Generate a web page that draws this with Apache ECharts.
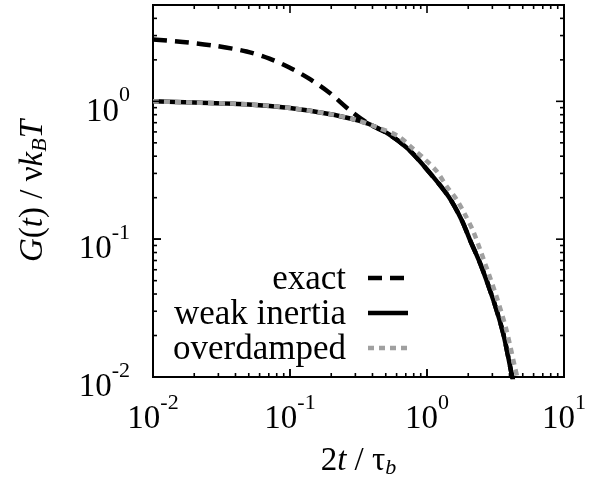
<!DOCTYPE html>
<html>
<head>
<meta charset="utf-8">
<script src="https://cdn.jsdelivr.net/npm/echarts@6/dist/echarts.min.js"></script>
<style>
html,body{margin:0;padding:0;background:#fff;}
#c{width:589px;height:487px;}
</style>
</head>
<body>
<div id="c"></div>
<script>
const FONT = "'Liberation Serif','Times New Roman',serif";

const X_MIN = 0.01, X_MAX = 10, Y_MIN = 0.01, Y_MAX = 5;
const xTickValues = [0.01, 0.1, 1, 10];
const xTickLabels = ['-2', '-1', '0', '1'];
const xMinorTicks = [0.02,0.03,0.04,0.05,0.06,0.07,0.08,0.09,0.2,0.3,0.4,0.5,0.6,0.7,0.8,0.9,2,3,4,5,6,7,8,9];
const yTickValues = [0.01, 0.1, 1];
const yTickLabels = ['-2', '-1', '0'];
const yMinorTicks = [0.02,0.03,0.04,0.05,0.06,0.07,0.08,0.09,0.2,0.3,0.4,0.5,0.6,0.7,0.8,0.9,2,3,4];

const seriesNames = ['exact', 'weak inertia', 'overdamped'];

const exactT = [0.01,0.0165,0.0292,0.0482,0.0708,0.0989,0.138,0.193,0.27,0.377,0.526,0.735,1.027,1.436,1.79,2.06,2.5,3.05,3.6,4.14,4.4];
const exactG = [2.81,2.70,2.52,2.30,2.04,1.76,1.46,1.16,0.87,0.685,0.578,0.448,0.31,0.204,0.138,0.0986,0.063,0.0361,0.0207,0.0106,0.0082];

const weakT = [0.01,0.02,0.05,0.1,0.193,0.3,0.377,0.526,0.735,1.027,1.436,1.79,2.06,2.5,3.05,3.6,4.14,4.4];
const weakG = [1.0,0.98,0.95,0.895,0.81,0.735,0.685,0.578,0.448,0.31,0.204,0.138,0.0986,0.063,0.0361,0.0207,0.0106,0.0082];

const overT = [0.01,0.02,0.05,0.1,0.193,0.3,0.445,0.622,0.757,0.972,1.18,1.395,1.65,1.9,2.18,2.65,3.22,3.8,4.38,4.7];
const overG = [1.0,0.98,0.95,0.895,0.81,0.735,0.641,0.556,0.471,0.377,0.31,0.241,0.193,0.150,0.1135,0.0668,0.0382,0.0219,0.0118,0.0088];

const GRID_L = 153, GRID_T = 5, GRID_R = 23, GRID_B = 110;
const MAJOR_LEN = 8, MINOR_LEN = 4;

function pairs(t, g) { return t.map((v, i) => [v, g[i]]); }

function labelFor(values, labels) {
  return function (v) {
    for (let i = 0; i < values.length; i++) {
      if (Math.abs(Math.log10(values[i]) - Math.log10(v)) < 0.01) return '{b|10}{s|' + labels[i] + '}';
    }
    return '';
  };
}

const richLbl = {
  b: { fontSize: 33, fontFamily: FONT, color: '#000', lineHeight: 44, verticalAlign: 'bottom' },
  s: { fontSize: 22, fontFamily: FONT, color: '#000', lineHeight: 22, verticalAlign: 'top' }
};

const nameRich = {
  n: { fontSize: 33, fontFamily: FONT, color: '#000', lineHeight: 40 },
  i: { fontSize: 33, fontFamily: FONT, fontStyle: 'italic', color: '#000', lineHeight: 40 },
  sub: { fontSize: 22, fontFamily: FONT, fontStyle: 'italic', color: '#000', lineHeight: 40, padding: [14, 0, 0, 0] }
};

const styles = [
  { color: '#000', width: 4.5, type: [14, 8] },
  { color: '#000', width: 4.5, type: 'solid' },
  { color: '#a0a0a0', width: 4.5, type: [6, 5] }
];
const dataSets = [pairs(exactT, exactG), pairs(weakT, weakG), pairs(overT, overG)];

const series = seriesNames.map((n, i) => ({
  name: n, type: 'line', data: dataSets[i],
  showSymbol: false, symbol: 'none', smooth: 0.3, clip: true,
  lineStyle: Object.assign({ cap: 'butt', join: 'round' }, styles[i]),
  itemStyle: { color: styles[i].color }
}));

const chart = echarts.init(document.getElementById('c'));
chart.setOption({
  animation: false,
  grid: { left: GRID_L, top: GRID_T, right: GRID_R, bottom: GRID_B, show: true, borderColor: '#000', borderWidth: 2, backgroundColor: 'transparent' },
  xAxis: {
    type: 'log', min: X_MIN, max: X_MAX,
    axisLine: { show: true, lineStyle: { color: '#000', width: 2 } },
    axisTick: { show: true, inside: true, length: MAJOR_LEN, lineStyle: { color: '#000', width: 1.5 } },
    axisLabel: { margin: 15, formatter: labelFor(xTickValues, xTickLabels), rich: richLbl },
    splitLine: { show: true, lineStyle: { color: 'rgba(0,0,0,0)' } },
    name: '{n|2}{i|t}{n| / τ}{sub|b}', nameLocation: 'middle', nameGap: 64, nameTextStyle: { rich: nameRich }
  },
  yAxis: {
    type: 'log', min: Y_MIN, max: Y_MAX,
    axisLine: { show: true, lineStyle: { color: '#000', width: 2 } },
    axisTick: { show: true, inside: true, length: MAJOR_LEN, lineStyle: { color: '#000', width: 1.5 } },
    axisLabel: { margin: 23, padding: [10, 0, 0, 0], formatter: labelFor(yTickValues, yTickLabels), rich: richLbl },
    splitLine: { show: true, lineStyle: { color: 'rgba(0,0,0,0)' } },
    name: '{i|G}{n|(}{i|t}{n|) / ν}{i|k}{sub|B}{i|T}', nameLocation: 'middle', nameGap: 100, nameTextStyle: { rich: nameRich }
  },
  series: series
});

// tick marks on all four sides, placed through the chart's own coordinate conversion
const els = [];
function P(x, y) { return chart.convertToPixel({ gridIndex: 0 }, [x, y]); }
function tickLine(x1, y1, x2, y2) {
  els.push({ type: 'line', z: 100, shape: { x1: x1, y1: y1, x2: x2, y2: y2 }, style: { stroke: '#000', lineWidth: 1.6 } });
}
function xTick(v, len) {
  const b = P(v, Y_MIN), t = P(v, Y_MAX);
  tickLine(b[0], b[1], b[0], b[1] - len);
  tickLine(t[0], t[1], t[0], t[1] + len);
}
function yTick(v, len) {
  const l = P(X_MIN, v), r = P(X_MAX, v);
  tickLine(l[0], l[1], l[0] + len, l[1]);
  tickLine(r[0], r[1], r[0] - len, r[1]);
}
xTickValues.forEach(v => xTick(v, MAJOR_LEN));
xMinorTicks.forEach(v => xTick(v, MINOR_LEN));
yTickValues.forEach(v => yTick(v, MAJOR_LEN));
yMinorTicks.forEach(v => yTick(v, MINOR_LEN));

// key: text right-aligned, line sample to its right (same styles as the series)
const keyTextRight = 346, keySampleLeft = 368, keySampleRight = 408;
const keyRows = [278, 313, 348];
seriesNames.forEach((n, i) => {
  els.push({ type: 'text', z: 100, x: keyTextRight, y: keyRows[i] + 2,
    style: { text: n, fontSize: 35, fontFamily: FONT, fill: '#000', align: 'right', verticalAlign: 'middle' } });
  els.push({ type: 'line', z: 100, shape: { x1: keySampleLeft, y1: keyRows[i], x2: keySampleRight, y2: keyRows[i] },
    style: { stroke: styles[i].color, lineWidth: styles[i].width, lineDash: styles[i].type === 'solid' ? null : styles[i].type } });
});
chart.setOption({ graphic: els });
</script>
</body>
</html>
